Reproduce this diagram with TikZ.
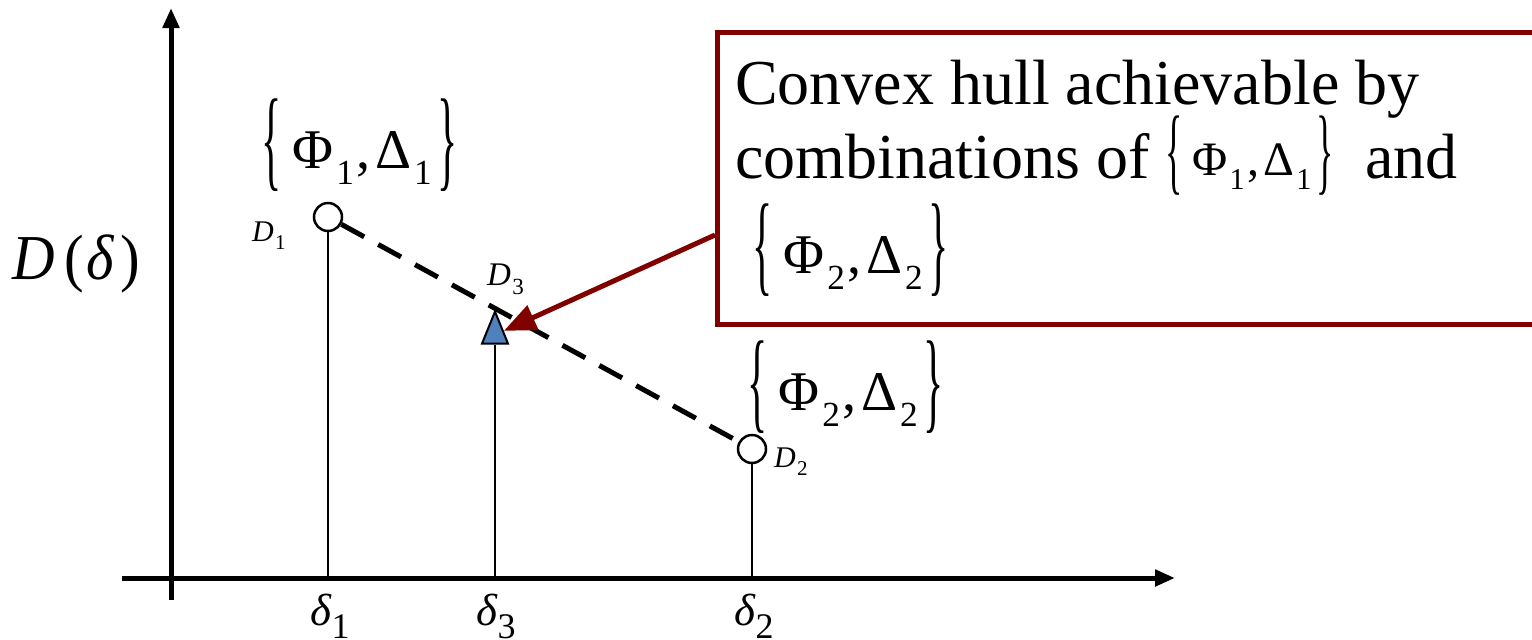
\documentclass[tikz,border=0pt]{standalone}
\usepackage{fontspec}
\setmainfont{Liberation Serif}
\usetikzlibrary{arrows.meta,shapes.geometric}
\definecolor{hullred}{RGB}{128,0,0}
\definecolor{triblue}{RGB}{79,129,189}
\newcommand{\lbr}{\raisebox{-0.16em}{\scalebox{0.75}[2.0]{\{}}}
\newcommand{\rbr}{\raisebox{-0.16em}{\scalebox{0.75}[2.0]{\}}}}
\newcommand{\low}[2][0.63]{\raisebox{-0.3em}{\scalebox{#1}{#2}}}
\newcommand{\setpair}[1]{\lbr\hspace{0.2em}Φ\hspace{0.05em}\low{#1}\hspace{0.05em},\hspace{0.08em}Δ\hspace{0.05em}\low{#1}\hspace{0.1em}\rbr}
\newcommand{\dsub}[2]{\textit{#1}\hspace{0.04em}\raisebox{-0.28em}{\scalebox{0.7}{#2}}}
\begin{document}
\begin{tikzpicture}[x=1pt,y=-1pt,
  axis/.style={line width=5pt,-{Triangle[length=20pt,width=16pt]}},
  stem/.style={line width=1.5pt},
  dpoint/.style={circle,draw,line width=2.5pt,fill=white,minimum size=28pt,inner sep=0pt},
  tri/.style={isosceles triangle,isosceles triangle stretches,shape border rotate=90,draw,line width=2pt,fill=triblue,minimum height=32pt,minimum width=26pt,inner sep=0pt},
  hull/.style={line width=5pt,dash pattern=on 26pt off 16pt},
  callout/.style={hullred,line width=5pt,-{Triangle[length=32pt,width=26pt]}},
  bigtext/.style={font=\fontsize{64}{70}\selectfont,inner sep=0pt,anchor=base west},
  settext/.style={font=\fontsize{56}{62}\selectfont,inner sep=0pt,anchor=base west},
  dlabel/.style={font=\fontsize{#1}{#1}\selectfont,inner sep=0pt,anchor=base west}
]
\useasboundingbox (0,0) rectangle (1532,640);
% axes
\coordinate (yb) at (171,600);
\coordinate (yt) at (171,8);
\coordinate (xl) at (122,578);
\coordinate (xr) at (1175,578);
\draw[axis] (yb) -- (yt);
\draw[axis] (xl) -- (xr);
% axis feet
\coordinate (x1) at (328,578);
\coordinate (x3) at (495,578);
\coordinate (x2) at (752,578);
% points
\node[dpoint] (D1) at (328,217) {};
\node[dpoint] (D2) at (752,449) {};
\draw[hull] (D1) -- (D2);
\node[tri,anchor=apex] (D3) at (495,309) {};
\draw[stem] (D1.south) -- (x1);
\draw[stem] (D3.south) -- (x3);
\draw[stem] (D2.south) -- (x2);
% labels
\node[font=\fontsize{64}{70}\selectfont,inner sep=0pt,anchor=base west] (Dd) at (12,279)
  {\scalebox{0.92}[1]{\textit{D}\kern0.16em(\kern0.05em\textit{δ}\kern0.1em)}};
\node[settext] (s1) at (261,168) {\setpair{1}};
\node[settext] (s2) at (747,410) {\setpair{2}};
\node[dlabel=30] (l1) at (252,241) {\dsub{D}{1}};
\node[dlabel=33] (l3) at (487,285) {\dsub{D}{3}};
\node[dlabel=30] (l2) at (774,467) {\dsub{D}{2}};
\node[dlabel=45] (d1) at (310,625) {\textit{δ}\raisebox{-0.3em}{\scalebox{0.8}{1}}};
\node[dlabel=45] (d3) at (476,625) {\textit{δ}\raisebox{-0.3em}{\scalebox{0.8}{3}}};
\node[dlabel=45] (d2) at (734,625) {\textit{δ}\raisebox{-0.3em}{\scalebox{0.8}{2}}};
% callout box
\begin{scope}
\clip (0,0) rectangle (1532,640);
\node[draw=hullred,line width=5pt,anchor=north west,minimum width=840pt,minimum height=292pt,inner sep=0pt] (box) at (715,30) {};
\end{scope}
\node[bigtext] (t1) at (735,104) {Convex hull achievable by};
\node[bigtext] (t2) at (735,178) {combinations of \raisebox{3pt}{\fontsize{48}{52}\selectfont\setpair{1}}\ \ and};
\node[settext] (t3) at (752,273) {\setpair{2}};
\coordinate (cs) at (715,235);
\draw[callout] (cs) -- (D3);
\end{tikzpicture}
\end{document}
